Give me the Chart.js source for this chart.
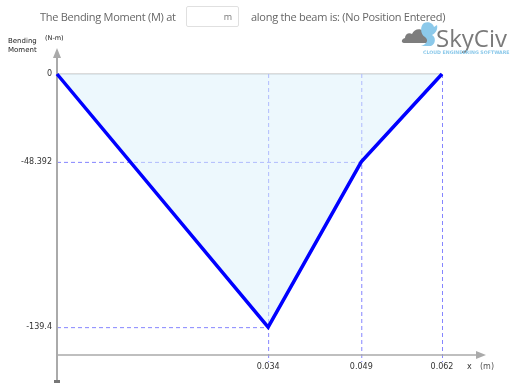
<!DOCTYPE html>
<html>
<head>
<meta charset="utf-8">
<script src="https://cdn.jsdelivr.net/npm/chart.js@4/dist/chart.umd.min.js"></script>
<style>
  html, body { margin: 0; padding: 0; background: #fff; }
  #wrap { position: relative; width: 511px; height: 383px; overflow: hidden; font-family: "Open Sans", sans-serif; }
  #bm { position: absolute; left: 0; top: 0; }
  .hdr { position: absolute; top: 8px; font-size: 11px; color: #666; line-height: 17px; white-space: nowrap; letter-spacing: -0.28px; }
  #posBox { position: absolute; left: 186px; top: 6px; width: 53px; height: 21px; border: 1px solid #e0e0e0; border-radius: 2px; box-sizing: border-box; }
  #posBox span { position: absolute; right: 6px; top: 3px; font-size: 9px; color: #777; line-height: 14px; }
  .lbl { position: absolute; font-family: "DejaVu Sans", sans-serif; font-size: 7px; color: #222; line-height: 9px; white-space: nowrap; }
  #logoText { position: absolute; left: 436px; top: 23px; font-family: "Open Sans", sans-serif; font-size: 24px; color: #7a7a7a; line-height: 30px; }
  #logoSub { position: absolute; left: 423px; top: 50px; font-family: "DejaVu Sans", sans-serif; font-size: 4.7px; font-weight: bold; color: #8cc9ea; white-space: nowrap; }
</style>
</head>
<body>
<div id="wrap">
  <canvas id="bm" width="511" height="383"></canvas>
  <div class="hdr" style="left:40px">The Bending Moment (M) at</div>
  <div id="posBox"><span>m</span></div>
  <div class="hdr" style="left:251px">along the beam is: (No Position Entered)</div>
  <div class="lbl" style="left:8px; top:37px">Bending<br>Moment</div>
  <div class="lbl" style="left:45px; top:34px; font-size:6.5px">(N-m)</div>
  <svg style="position:absolute; left:400px; top:20px" width="40" height="30" viewBox="0 0 40 30">
    <path d="M4 23 C1 23 1 19 5 18 C5 14 9 12 12 14 C14 9 20 8 23 11 L30 23 Z" fill="#7d7d7d"/>
    <path d="M24 3 C28 1 33 3 34 7 L37 5 C38 9 36 13 32 15 C36 17 36 24 31 26 L21 26 C27 24 29 20 25 17 C20 14 20 6 24 3 Z" fill="#8cc9ea"/>
  </svg>
  <div id="logoText">SkyCiv</div>
  <div id="logoSub">CLOUD ENGINEERING SOFTWARE</div>
</div>
<script>
// beam positions (m) and bending moment (N-m)
var positions = [0, 0.034, 0.049, 0.062];
var moments = [0, -139.4, -48.392, 0];
var xTickValues = [0.034, 0.049, 0.062];
var yTickLabels = ['0', '-48.392', '-139.4'];
var yTickValues = [0, -48.392, -139.4];

var minMoment = Math.min(...moments);
var axisGrey = '#aaaaaa';
var guideBlue = '#8585ff';

// axes, arrows, dashed guides and tick labels drawn by hand on top of the chart
var beamAxes = {
    id: 'beamAxes',
    beforeDatasetsDraw: function (chart) {
        var ctx = chart.ctx;
        var xs = chart.scales.x, ys = chart.scales.y;
        var x0 = xs.getPixelForValue(0);
        var zeroY = ys.getPixelForValue(0);
        var bottom = chart.chartArea.bottom;
        ctx.save();
        // zero line
        ctx.strokeStyle = '#cfcfcf';
        ctx.lineWidth = 1.5;
        ctx.beginPath();
        ctx.moveTo(x0, zeroY);
        ctx.lineTo(xs.getPixelForValue(positions[positions.length - 1]), zeroY);
        ctx.stroke();

        // dashed guides
        ctx.strokeStyle = guideBlue;
        ctx.lineWidth = 1;
        ctx.setLineDash([4, 3]);
        for (var i = 0; i < positions.length; i++) {
            var px = xs.getPixelForValue(positions[i]);
            var py = ys.getPixelForValue(moments[i]);
            if (positions[i] !== 0) {
                ctx.beginPath();
                ctx.moveTo(px + 0.5, zeroY);
                ctx.lineTo(px + 0.5, bottom + 7);
                ctx.stroke();
            }
            if (moments[i] !== 0) {
                ctx.beginPath();
                ctx.moveTo(x0, py + 0.5);
                ctx.lineTo(px, py + 0.5);
                ctx.stroke();
            }
        }
        ctx.setLineDash([]);

        // y axis with arrow
        ctx.strokeStyle = axisGrey;
        ctx.fillStyle = axisGrey;
        ctx.lineWidth = 2;
        ctx.beginPath();
        ctx.moveTo(x0, 56);
        ctx.lineTo(x0, 381);
        ctx.stroke();
        ctx.beginPath();
        ctx.moveTo(x0, 48);
        ctx.lineTo(x0 - 4, 58);
        ctx.lineTo(x0 + 4, 58);
        ctx.closePath();
        ctx.fill();
        ctx.fillStyle = '#777';
        ctx.fillRect(x0 - 3, 380, 6, 3);

        // x axis with arrow
        ctx.fillStyle = axisGrey;
        ctx.lineWidth = 1.5;
        ctx.beginPath();
        ctx.moveTo(x0, bottom);
        ctx.lineTo(478, bottom);
        ctx.stroke();
        ctx.beginPath();
        ctx.moveTo(486, bottom);
        ctx.lineTo(476, bottom - 4);
        ctx.lineTo(476, bottom + 4);
        ctx.closePath();
        ctx.fill();

        // tick labels
        ctx.font = '8px "DejaVu Sans", sans-serif';
        ctx.fillStyle = '#333';
        ctx.textBaseline = 'middle';
        ctx.textAlign = 'center';
        xTickValues.forEach(function (v) {
            ctx.fillText(String(v), xs.getPixelForValue(v), bottom + 12);
        });
        ctx.textAlign = 'left';
        ctx.fillText('x', 467, bottom + 12);
        ctx.fillStyle = '#555';
        ctx.fillText('(m)', 480, bottom + 12);
        ctx.fillStyle = '#333';
        ctx.textAlign = 'right';
        yTickValues.forEach(function (v, k) {
            ctx.fillText(yTickLabels[k], x0 - 5, ys.getPixelForValue(v));
        });
        ctx.restore();
    }
};

var ctx = document.getElementById('bm').getContext('2d');
new Chart(ctx, {
    type: 'line',
    data: {
        datasets: [{
            data: positions.map(function (p, i) { return { x: p, y: moments[i] }; }),
            borderColor: '#0000ff',
            borderWidth: 3.5,
            backgroundColor: 'rgba(220, 242, 252, 0.5)',
            fill: { value: 0 },
            pointRadius: 0,
            tension: 0,
            clip: false
        }]
    },
    options: {
        responsive: false,
        animation: false,
        events: [],
        layout: { padding: { left: 57, right: 69, top: 74, bottom: 28 } },
        scales: {
            x: { type: 'linear', display: false, min: 0, max: positions[positions.length - 1] },
            y: { type: 'linear', display: false, min: minMoment * 1.11, max: 0 }
        },
        plugins: { legend: { display: false }, tooltip: { enabled: false } }
    },
    plugins: [beamAxes]
});
</script>
</body>
</html>
